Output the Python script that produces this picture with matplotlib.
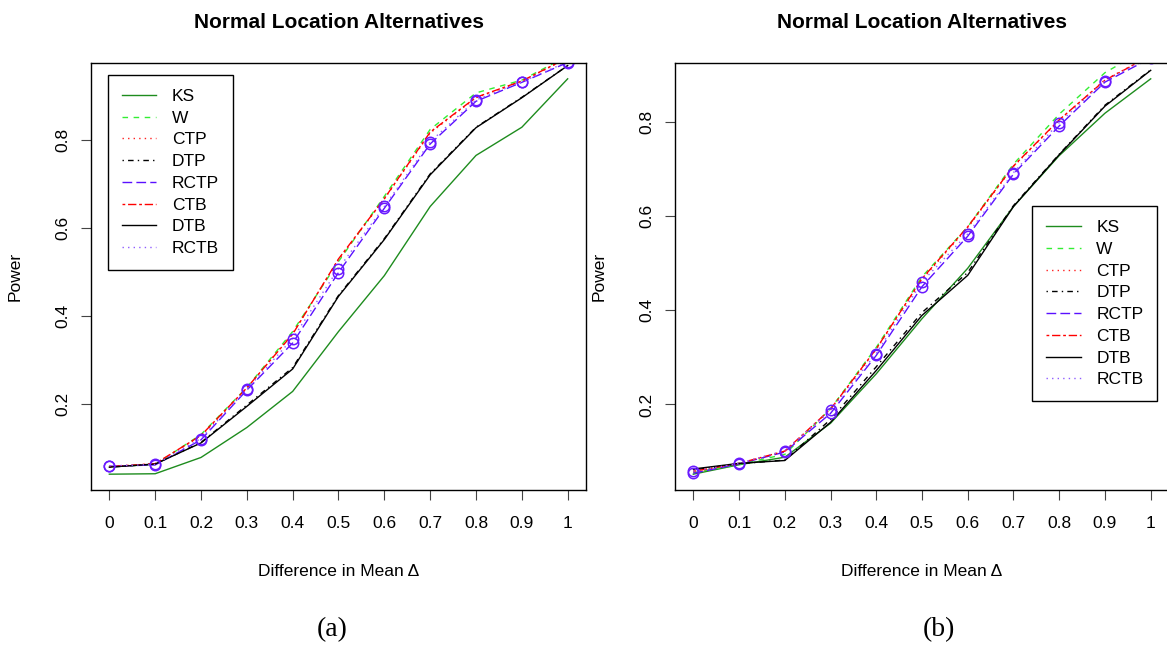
import matplotlib
matplotlib.use("Agg")
import matplotlib.pyplot as plt
import numpy as np

plt.rcParams['font.family'] = ['Liberation Sans', 'DejaVu Sans']

delta = [0.0, 0.1, 0.2, 0.3, 0.4, 0.5, 0.6, 0.7, 0.8, 0.9, 1.0]
xtick_labels = ["0", "0.1", "0.2", "0.3", "0.4", "0.5", "0.6", "0.7", "0.8", "0.9", "1"]
ytick_vals = [0.2, 0.4, 0.6, 0.8]
methods = ["KS", "W", "CTP", "DTP", "RCTP", "CTB", "DTB", "RCTB"]

# panel (a)
ks_a = [0.040, 0.041, 0.078, 0.146, 0.228, 0.364, 0.491, 0.648, 0.764, 0.828, 0.938]
w_a = [0.057, 0.062, 0.130, 0.237, 0.364, 0.523, 0.671, 0.823, 0.906, 0.935, 0.990]
ctp_a = [0.058, 0.063, 0.127, 0.235, 0.360, 0.527, 0.665, 0.815, 0.895, 0.932, 0.985]
dtp_a = [0.056, 0.063, 0.112, 0.197, 0.282, 0.446, 0.575, 0.722, 0.828, 0.896, 0.968]
rctp_a = [0.058, 0.061, 0.118, 0.231, 0.338, 0.498, 0.644, 0.790, 0.887, 0.930, 0.975]
ctb_a = [0.057, 0.064, 0.128, 0.236, 0.358, 0.529, 0.666, 0.817, 0.896, 0.933, 0.986]
dtb_a = [0.056, 0.063, 0.111, 0.194, 0.279, 0.444, 0.573, 0.720, 0.827, 0.895, 0.968]
rctb_a = [0.059, 0.062, 0.121, 0.233, 0.348, 0.507, 0.648, 0.795, 0.890, 0.931, 0.977]

# panel (b)
ks_b = [0.052, 0.072, 0.088, 0.160, 0.265, 0.382, 0.489, 0.620, 0.728, 0.818, 0.891]
w_b = [0.055, 0.073, 0.094, 0.191, 0.321, 0.471, 0.577, 0.710, 0.816, 0.904, 0.960]
ctp_b = [0.057, 0.075, 0.100, 0.188, 0.317, 0.465, 0.575, 0.705, 0.803, 0.889, 0.940]
dtp_b = [0.061, 0.074, 0.082, 0.168, 0.280, 0.395, 0.480, 0.622, 0.731, 0.835, 0.910]
rctp_b = [0.054, 0.074, 0.099, 0.181, 0.304, 0.450, 0.557, 0.689, 0.791, 0.884, 0.935]
ctb_b = [0.058, 0.075, 0.101, 0.190, 0.318, 0.467, 0.577, 0.706, 0.804, 0.888, 0.940]
dtb_b = [0.063, 0.075, 0.081, 0.162, 0.272, 0.389, 0.474, 0.620, 0.730, 0.833, 0.909]
rctb_b = [0.058, 0.075, 0.102, 0.188, 0.308, 0.460, 0.562, 0.692, 0.798, 0.887, 0.937]

# R-like line types (lty 1..6 recycled)
colors = ["#1e8c1e", "#33ee33", "#ff2020", "black", "#5a10ff", "#ff0000", "black", "#8f5cff"]
styles = ["-", (0, (4, 4)), (0, (1, 3)), (0, (1, 3, 4, 3)), (0, (7, 3)),
          (0, (2, 2, 6, 2)), "-", (0, (1, 3))]
circle_col = "#6a1aff"


def draw_panel(ax, series, leg_anchor):
    for name, y, c, ls in zip(methods, series, colors, styles):
        ax.plot(delta, y, color=c, linestyle=ls, linewidth=1.0, label=name)
    # circles on the RCTP / RCTB points
    for idx in (4, 7):
        ax.plot(delta, series[idx], linestyle="none", marker="o", markersize=7.5,
                markerfacecolor="none", markeredgecolor=circle_col, markeredgewidth=1.1)

    # R style 4% padding based on the first series
    ks = np.array(series[0])
    r = ks.max() - ks.min()
    ax.set_ylim(ks.min() - 0.04 * r, ks.max() + 0.04 * r)
    ax.set_xlim(-0.04, 1.04)

    ax.set_xticks(delta)
    ax.set_xticklabels(xtick_labels)
    ax.set_yticks(ytick_vals)
    ax.set_yticklabels(["0.2", "0.4", "0.6", "0.8"])
    ax.tick_params(axis="both", labelsize=12.5, length=7, width=0.8, color="#444444")
    ax.tick_params(axis="x", pad=12)
    ax.tick_params(axis="y", labelrotation=90, pad=8)
    for lab in ax.get_yticklabels():
        lab.set_verticalalignment("center")
    for sp in ax.spines.values():
        sp.set_linewidth(1.0)

    ax.set_title("Normal Location Alternatives", fontsize=15, fontweight="bold", pad=25)
    ax.set_xlabel("Difference in Mean \u0394", fontsize=12.5)
    ax.xaxis.set_label_coords(0.5, -0.192)
    ax.xaxis.label.set_verticalalignment("center")
    ax.set_ylabel("Power", fontsize=12.5)
    ax.yaxis.set_label_coords(-0.153, 0.5)
    ax.yaxis.label.set_verticalalignment("center")

    leg = ax.legend(loc="upper left", bbox_to_anchor=leg_anchor, borderaxespad=0,
                    fontsize=12.5, handlelength=2.0, handletextpad=0.9,
                    labelspacing=0.38, borderpad=0.8, fancybox=False,
                    framealpha=1, edgecolor="black")
    leg.get_frame().set_linewidth(1.0)


fig = plt.figure(figsize=(11.67, 6.5), dpi=100)
ax1 = fig.add_axes([91 / 1167, 1 - 490 / 650, 495 / 1167, 427 / 650])
ax2 = fig.add_axes([675 / 1167, 1 - 490 / 650, 494 / 1167, 427 / 650])

draw_panel(ax1, [ks_a, w_a, ctp_a, dtp_a, rctp_a, ctb_a, dtb_a, rctb_a], (0.034, 0.972))
draw_panel(ax2, [ks_b, w_b, ctp_b, dtp_b, rctp_b, ctb_b, dtb_b, rctb_b], (0.7227, 0.665))

fig.text(332 / 1167, 1 - 630 / 650, "(a)", family="Liberation Serif", fontsize=20,
         ha="center", va="center")
fig.text(939 / 1167, 1 - 630 / 650, "(b)", family="Liberation Serif", fontsize=20,
         ha="center", va="center")

fig.savefig("out.png", dpi=100)
